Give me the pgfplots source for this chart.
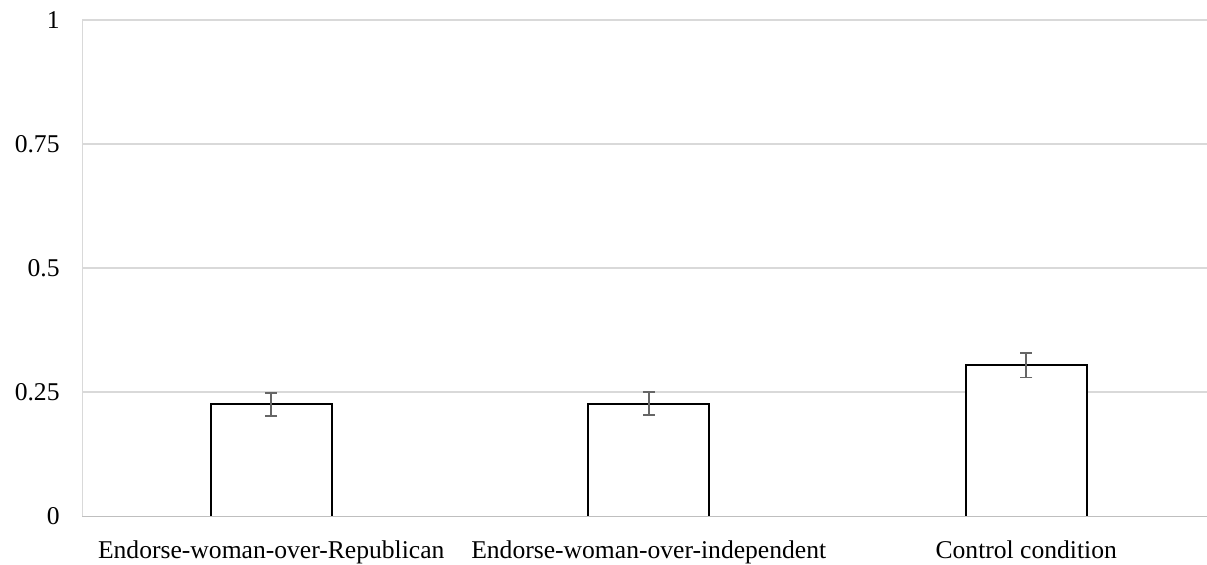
\documentclass[border=0pt]{standalone}
\usepackage{fontspec}
\setmainfont{Liberation Serif}
\usepackage{pgfplots}
\pgfplotsset{compat=1.18}
\definecolor{gridc}{HTML}{D9D9D9}
\definecolor{axisc}{HTML}{BFBFBF}
\definecolor{errc}{HTML}{666666}
\begin{document}
\fontsize{12.8}{15}\selectfont
\begin{tikzpicture}
\begin{axis}[
  scale only axis,
  width=566.25pt, height=248.25pt,
  at={(0,0)}, anchor=south west,
  xmin=-0.5, xmax=2.5,
  ymin=0, ymax=1,
  ytick={0,0.25,0.5,0.75,1},
  yticklabels={0,0.25,0.5,0.75,1},
  xtick={0,1,2},
  xticklabels={Endorse-woman-over-Republican,Endorse-woman-over-independent,Control condition},
  major tick length=0pt,
  axis line style={draw=none},
  ymajorgrids,
  grid style={gridc, line width=0.9pt},
  /pgf/number format/assume math mode=true,
  tick label style={font=\fontsize{12.8}{15}\selectfont},
  yticklabel style={xshift=-7pt},
  xticklabel style={yshift=-7.5pt},
  clip=false,
]
\draw[gridc, line width=0.9pt] (axis cs:-0.5,0) -- (axis cs:-0.5,1);
\addplot[ybar, bar width=0.32, fill=white, draw=black, line width=0.9pt,
  error bars/.cd, y dir=both, y explicit,
  error bar style={errc, line width=0.9pt},
  error mark options={rotate=90, mark size=3pt, errc, line width=0.9pt}]
  coordinates {
  (0,0.226) +- (0,0.023)
  (1,0.227) +- (0,0.023)
  (2,0.305) +- (0,0.025)
  };
\draw[axisc, line width=0.9pt] (axis cs:-0.5,0) -- (axis cs:2.5,0);
\end{axis}
\pgfresetboundingbox
\useasboundingbox (-41.25pt,-23.75pt) rectangle (562.25pt,258.25pt);
\end{tikzpicture}
\end{document}
